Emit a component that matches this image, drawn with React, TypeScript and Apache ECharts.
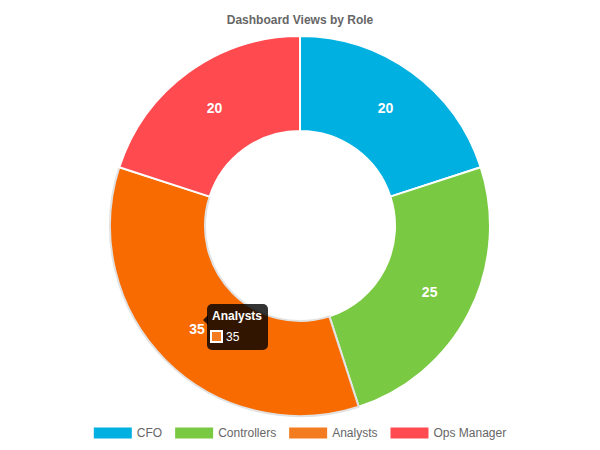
import * as echarts from 'echarts';
import React, { useEffect, useRef } from 'react';

const roles = ['CFO', 'Controllers', 'Analysts', 'Ops Manager'];
const views = [20, 25, 35, 20];
const colors = ['#00B0E0', '#7AC943', '#F47C20', '#FF4A4F'];

// the hovered slice (Analysts) is drawn in its hover colour
const hoverIndex = 2;
const hoverColor = '#F76B00';

const FONT = 'Arial, "Liberation Sans", Helvetica, sans-serif';
const TIP_BG = 'rgba(0,0,0,0.8)';

const App: React.FC = () => {
  const chartRef = useRef<HTMLDivElement>(null);

  useEffect(() => {
    document.body.style.margin = '0';
    let chart: echarts.ECharts | undefined;
    if (chartRef.current) {
      chart = echarts.init(chartRef.current, undefined, { renderer: 'svg' });

      const option: echarts.EChartsOption = {
        animation: false,
        backgroundColor: '#ffffff',
        title: {
          text: 'Dashboard Views by Role',
          left: 'center',
          top: 9,
          textStyle: {
            fontFamily: FONT,
            fontSize: 12,
            fontWeight: 'bold',
            color: '#666666',
          },
        },
        legend: {
          bottom: 6,
          left: 'center',
          icon: 'rect',
          itemWidth: 38,
          itemHeight: 11,
          itemGap: 13,
          textStyle: { fontFamily: FONT, fontSize: 12, color: '#666666' },
          data: roles.map((name, i) => ({
            name,
            itemStyle: { color: colors[i], borderWidth: 0 },
          })),
        },
        series: [
          {
            name: 'Views',
            type: 'pie',
            center: [300, 226],
            radius: [95, 190],
            startAngle: 90,
            clockwise: true,
            silent: true,
            z: 2,
            label: {
              show: true,
              position: 'inside',
              color: '#ffffff',
              fontFamily: FONT,
              fontSize: 14,
              fontWeight: 'bold',
              formatter: '{c}',
            },
            labelLine: { show: false },
            data: views.map((value, i) => ({
              name: roles[i],
              value,
              itemStyle:
                i === hoverIndex
                  ? {
                      color: hoverColor,
                      borderColor: '#E2E2E2',
                      borderWidth: 2,
                    }
                  : { color: colors[i], borderColor: '#ffffff', borderWidth: 2 },
            })),
          },
        ],
        graphic: {
          elements: [
            {
              type: 'polygon',
              z: 100,
              zlevel: 1,
              shape: { points: [[203, 320], [208, 315], [208, 325]] },
              style: { fill: TIP_BG },
            },
            {
              type: 'rect',
              z: 100,
              zlevel: 1,
              shape: { x: 207, y: 304, width: 61, height: 46, r: 5 },
              style: { fill: TIP_BG },
            },
            {
              type: 'text',
              z: 101,
              zlevel: 1,
              x: 212,
              y: 310,
              style: {
                text: 'Analysts',
                fill: '#ffffff',
                font: `bold 12px ${FONT}`,
              },
            },
            {
              type: 'rect',
              z: 101,
              zlevel: 1,
              shape: { x: 211, y: 331, width: 11, height: 11 },
              style: { fill: colors[hoverIndex], stroke: '#ffffff', lineWidth: 2 },
            },
            {
              type: 'text',
              z: 101,
              zlevel: 1,
              x: 226,
              y: 331,
              style: {
                text: String(views[hoverIndex]),
                fill: '#ffffff',
                font: `12px ${FONT}`,
              },
            },
          ],
        },
      };

      chart.setOption(option);
    }
    return () => {
      chart?.dispose();
    };
  }, []);

  return <div ref={chartRef} style={{ width: '600px', height: '450px' }} />;
};

export default App;
